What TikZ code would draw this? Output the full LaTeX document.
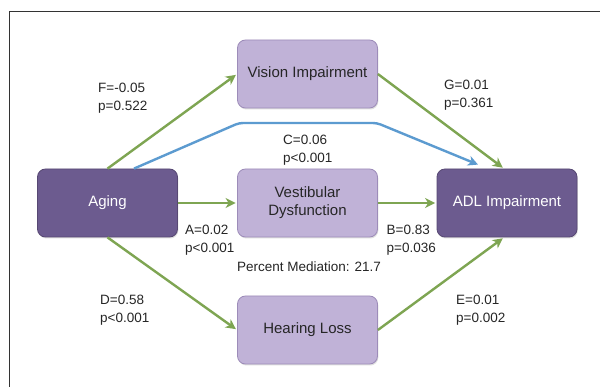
\documentclass[tikz,border=0pt]{standalone}
\usepackage{fontspec}
\setmainfont{Liberation Sans}
\usetikzlibrary{arrows.meta,shadows}
\definecolor{darkbox}{HTML}{6C5B8F}
\definecolor{darkedge}{HTML}{574873}
\definecolor{lightbox}{HTML}{C0B2D7}
\definecolor{lightedge}{HTML}{9D8CB9}
\definecolor{arrgreen}{HTML}{7EA552}
\definecolor{arrblue}{HTML}{5C9BD0}
\definecolor{txt}{HTML}{262626}
\begin{document}
\begin{tikzpicture}[x=1pt,y=-1pt,
  boxbase/.style={rounded corners=8pt, inner sep=0pt, minimum width=140pt, minimum height=68pt,
     line width=0.8pt, font=\fontsize{15}{18}\selectfont, align=center,
     drop shadow={opacity=0.25, shadow xshift=0.8pt, shadow yshift=-1.5pt}},
  darknode/.style={boxbase, fill=darkbox, draw=darkedge, text=white},
  lightnode/.style={boxbase, fill=lightbox, draw=lightedge, text=txt},
  garrow/.style={draw=arrgreen, line width=2.4pt, shorten >=1.5pt, -{Stealth[length=10pt,width=10pt,inset=3pt]}},
  barrow/.style={draw=arrblue, line width=2.4pt, -{Stealth[length=10pt,width=10pt,inset=3pt]}},
  lbl/.style={font=\fontsize{13.5}{18}\selectfont, text=txt, align=left, inner sep=0pt, anchor=west}
]
\useasboundingbox (0,0) rectangle (600,387);
\fill[white] (0,0) rectangle (600,387);
\draw[line width=0.9pt, black!80] (9.5,387) -- (9.5,11.5) -- (600,11.5);

\node[darknode] (aging) at (107.5,203) {Aging};
\node[lightnode] (vision) at (307.5,74) {Vision Impairment};
\node[lightnode] (vest) at (307.5,203) {Vestibular\\Dysfunction};
\node[lightnode] (hear) at (307.5,330) {Hearing Loss};
\node[darknode] (adl) at (507,203) {ADL Impairment};

\coordinate (b1) at (239,123);
\coordinate (b2) at (377,123);

\draw[garrow] (aging.north) -- (vision.west);
\draw[garrow] (aging.south) -- (hear.west);
\draw[garrow] (aging.east) -- (vest.west);
\draw[garrow] (vest.east) -- (adl.west);
\draw[garrow] (vision.east) -- ([xshift=-3pt]adl.north);
\draw[garrow] (hear.east) -- ([xshift=-3pt]adl.south);
\draw[barrow, rounded corners=4pt] ([xshift=26.5pt]aging.north) -- (b1) -- (b2) -- ([shift={(-29pt,4pt)}]adl.north);

\node[lbl] (lf) at (98,98) {F=-0.05\\p=0.522};
\node[lbl] (lg) at (444,95) {G=0.01\\p=0.361};
\node[lbl] (lc) at (283,150) {C=0.06\\p<0.001};
\node[lbl] (la) at (185,240) {A=0.02\\p<0.001};
\node[lbl] (lb) at (386.5,240) {B=0.83\\p=0.036};
\node[lbl] (ld) at (100,310.5) {D=0.58\\p<0.001};
\node[lbl] (le) at (456,310.5) {E=0.01\\p=0.002};
\node[lbl, anchor=center] (lp) at (309,267) {Percent Mediation: 21.7};
\end{tikzpicture}
\end{document}
